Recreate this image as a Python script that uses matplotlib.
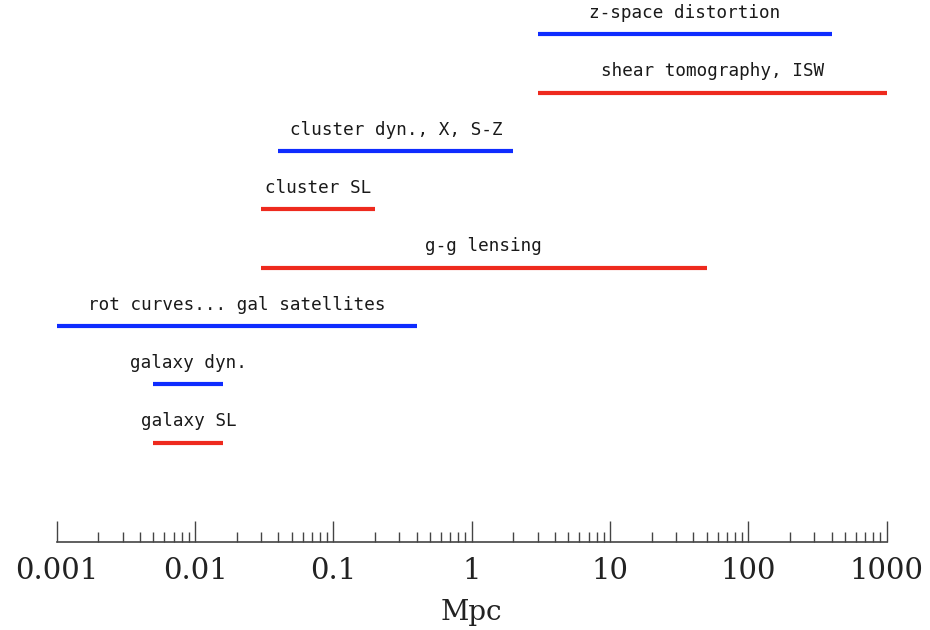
import matplotlib
matplotlib.use("Agg")
import matplotlib.pyplot as plt
import numpy as np
from matplotlib.ticker import FixedLocator, FixedFormatter, LogLocator, NullFormatter

labels = ["z-space distortion", "shear tomography, ISW", "cluster dyn., X, S-Z",
          "cluster SL", "g-g lensing", "rot curves... gal satellites",
          "galaxy dyn.", "galaxy SL"]
x_min = [3.0, 3.0, 0.04, 0.03, 0.03, 0.001, 0.005, 0.005]
x_max = [400.0, 1000.0, 2.0, 0.2, 50.0, 0.4, 0.016, 0.016]
kinds = ["blue", "red", "blue", "red", "red", "blue", "blue", "red"]
tick_vals = [0.001, 0.01, 0.1, 1, 10, 100, 1000]
tick_labels = ["0.001", "0.01", "0.1", "1", "10", "100", "1000"]

colors = {"blue": "#0f2cff", "red": "#ee2a1e"}

fig = plt.figure(figsize=(9.3, 6.3), dpi=100)
ax = fig.add_axes([56.7/930, (630-541.7)/630, (886.7-56.7)/930, 541.7/630])

for i, (lab, a, b, k) in enumerate(zip(labels, x_min, x_max, kinds)):
    ax.plot([a, b], [i, i], color=colors[k], lw=3.0, solid_capstyle='butt')
    ax.text(np.sqrt(a*b), i - 0.28, lab, ha='center', va='baseline',
            fontsize=12.7, family='DejaVu Sans Mono', color='#1a1a1a')

ax.set_xscale('log')
ax.set_xlim(0.001, 1000)
ax.set_ylim(8.70, -0.59)

for s in ['top', 'left', 'right']:
    ax.spines[s].set_visible(False)
ax.spines['bottom'].set_color('#444444')
ax.spines['bottom'].set_linewidth(1.2)
ax.set_yticks([])

ax.xaxis.set_major_locator(FixedLocator(tick_vals))
ax.xaxis.set_major_formatter(FixedFormatter(tick_labels))
ax.xaxis.set_minor_locator(LogLocator(base=10, subs=np.arange(2, 10), numticks=20))
ax.xaxis.set_minor_formatter(NullFormatter())
ax.tick_params(axis='x', which='major', direction='in', length=15, width=1.0,
               color='#444444', pad=11, labelsize=21)
ax.tick_params(axis='x', which='minor', direction='in', length=7.5, width=1.0,
               color='#444444')
for t in ax.get_xticklabels():
    t.set_family('DejaVu Serif')
    t.set_color('#222222')
ax.set_xlabel("Mpc", fontsize=20, family='DejaVu Serif', color='#222222', labelpad=10)

fig.savefig("out.png", dpi=100)
